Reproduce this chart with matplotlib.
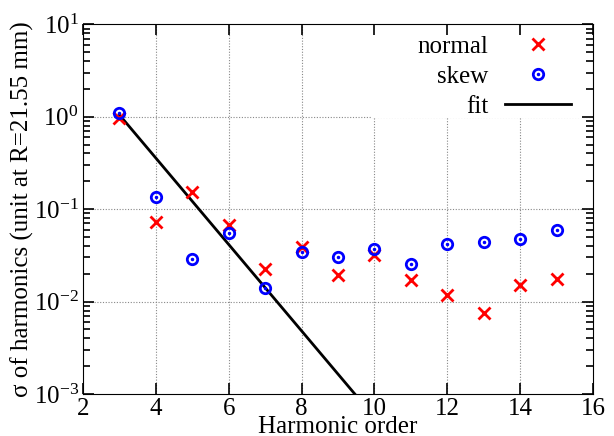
import matplotlib
matplotlib.use("Agg")
import matplotlib.pyplot as plt
import numpy as np
from matplotlib.legend_handler import HandlerTuple
from matplotlib.ticker import FixedLocator, NullFormatter
from matplotlib.patches import Rectangle

plt.rcParams['font.family'] = ['Liberation Serif', 'DejaVu Serif']
plt.rcParams['mathtext.fontset'] = 'custom'
plt.rcParams['mathtext.rm'] = 'Liberation Serif'
plt.rcParams['mathtext.it'] = 'Liberation Serif:italic'

# harmonic orders and sigma values
order = [3, 4, 5, 6, 7, 8, 9, 10, 11, 12, 13, 14, 15]
normal = [0.98, 0.073, 0.155, 0.068, 0.0224, 0.039, 0.0195, 0.032,
          0.0172, 0.0118, 0.0076, 0.0151, 0.0176]
skew = [1.09, 0.134, 0.0288, 0.0558, 0.0140, 0.0342, 0.0302, 0.0369,
        0.0254, 0.0422, 0.0436, 0.0478, 0.0588]
# fit line end points
fit_x = [3, 10]
fit_y = [1.05, 5.6e-4]

fig = plt.figure(figsize=(6.14, 4.36), dpi=100)
ax = fig.add_axes([0.135, 0.0963, 0.831, 0.848])

# axes set up first, then the data
ax.set_yscale('log')
ax.set_xlim(2, 16)
ax.set_ylim(1e-3, 1e1)
ax.set_xticks([2, 4, 6, 8, 10, 12, 14, 16])
minor_y = [m * 10.0 ** e for e in range(-3, 1) for m in range(2, 10)]
ax.yaxis.set_minor_locator(FixedLocator(minor_y))
ax.yaxis.set_minor_formatter(NullFormatter())

ax.tick_params(which='both', direction='in', top=True, right=True, labelsize=18, pad=3,
               color='black')
ax.tick_params(which='major', length=8, width=1.2)
ax.tick_params(axis='y', which='minor', length=5, width=1.2, left=True, right=True)
ax.tick_params(axis='x', which='minor', top=False, bottom=False)
ax.set_axisbelow(False)

ax.set_xlabel('Harmonic order', fontsize=18, labelpad=-3)
ax.set_ylabel('σ of harmonics (unit at R=21.55 mm)', fontsize=18, labelpad=0)

# dotted grid drawn by hand so the legend block can hide it
for xv in [4, 6, 8, 10, 12, 14]:
    ax.axvline(xv, ls=(0, (1, 1.5)), color='#888888', lw=0.8, zorder=1)
for yv in [1e-2, 1e-1, 1e0]:
    ax.axhline(yv, ls=(0, (1, 1.5)), color='#888888', lw=0.8, zorder=1)
ax.add_patch(Rectangle((0.565, 0.747), 0.435, 0.253, transform=ax.transAxes,
                       facecolor='white', edgecolor='none', zorder=1.2))

hf, = ax.plot(fit_x, fit_y, color='black', lw=2, zorder=3)
hn, = ax.plot(order, normal, ls='none', marker='x', color='red', ms=9, mew=2, zorder=4)
hs1, = ax.plot(order, skew, ls='none', marker='o', mfc='none', mec='blue', ms=7.5, mew=2, zorder=5)
hs2, = ax.plot(order, skew, ls='none', marker='o', color='blue', ms=1.5, zorder=5)

leg = ax.legend([hn, (hs1, hs2), hf], ['normal', 'skew', 'fit'],
                handler_map={tuple: HandlerTuple(ndivide=1)},
                loc='upper right', bbox_to_anchor=(1, 1.03), markerfirst=False,
                fontsize=18, frameon=False, handlelength=2.64, handletextpad=0.64,
                labelspacing=0.3, borderpad=0.5, borderaxespad=0.4)

fig.savefig('out.png', dpi=100)
